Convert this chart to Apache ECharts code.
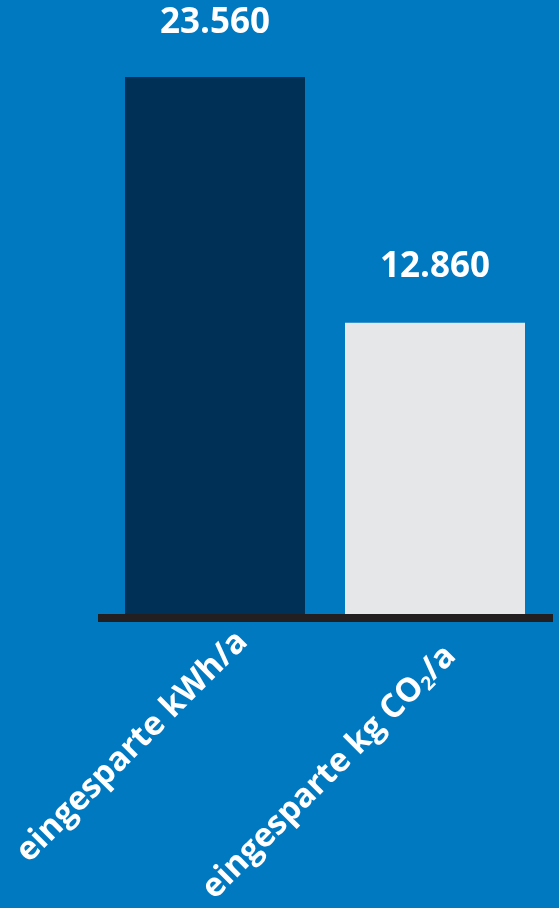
<!DOCTYPE html>
<html><head><meta charset="utf-8">
<script src="https://cdn.jsdelivr.net/npm/echarts@6/dist/echarts.min.js"></script>
<style>html,body{margin:0;padding:0;background:#0079c1;}#c{width:559px;height:908px;}</style>
</head><body><div id="c"></div>
<script>
const categories = ['eingesparte kWh/a', 'eingesparte kg CO{sub|2}/a'];
const values = [23560, 12860];
const valueLabels = ['23.560', '12.860'];
const barColors = ['#003056', '#e6e7e9'];

const chart = echarts.init(document.getElementById('c'));
const font = '"Open Sans", sans-serif';
const labelShift = 32;
chart.setOption({
  backgroundColor: '#0079c1',
  animation: false,
  grid: [
    {left: 105, right: 14, top: 77, bottom: 290},
    {left: 98, right: 6, top: 77, bottom: 290},
    {left: 105 + labelShift, right: 14 - labelShift, top: 77, bottom: 290}
  ],
  xAxis: [
    {type: 'category', gridIndex: 0, data: categories, show: false},
    {type: 'category', gridIndex: 1, data: [''], z: 10,
     axisLine: {show: true, lineStyle: {color: '#231f20', width: 8, cap: 'butt'}},
     axisTick: {show: false}, axisLabel: {show: false}},
    {type: 'category', gridIndex: 2,
     data: categories.map((c, i) => ({value: c, textStyle: {padding: i === 1 ? [16, 12, 0, 0] : 0}})),
     axisLine: {show: false}, axisTick: {show: false},
     axisLabel: {rotate: 45, interval: 0, margin: 26, color: '#fff', fontFamily: font, fontWeight: 'bold', fontSize: 33,
       rich: {sub: {fontSize: 19, fontFamily: font, fontWeight: 'bold', color: '#fff', verticalAlign: 'bottom', padding: [16, 0, 0, 0]}}}}
  ],
  yAxis: [
    {type: 'value', gridIndex: 0, min: 0, max: 23560, show: false},
    {type: 'value', gridIndex: 1, show: false},
    {type: 'value', gridIndex: 2, show: false}
  ],
  series: [{
    type: 'bar', xAxisIndex: 0, yAxisIndex: 0, barWidth: 180,
    data: values.map((v, i) => ({value: v, itemStyle: {color: barColors[i]},
      label: {distance: i === 0 ? 36 : 38}})),
    label: {show: true, position: 'top', color: '#fff', fontFamily: font, fontWeight: 700, fontSize: 35,
      formatter: p => valueLabels[p.dataIndex]}
  }]
});
</script></body></html>
